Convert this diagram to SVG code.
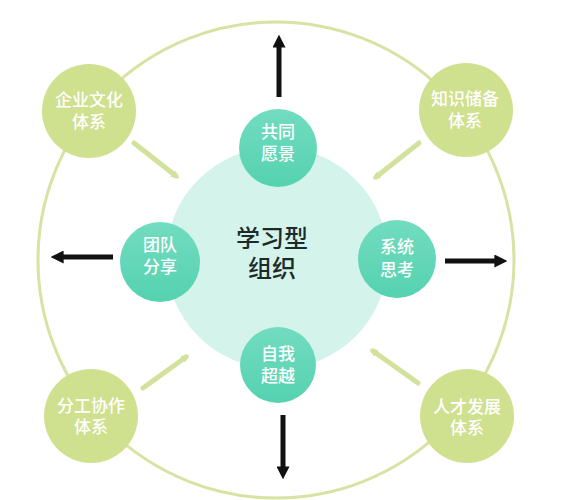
<svg xmlns="http://www.w3.org/2000/svg" width="565" height="500" viewBox="0 0 565 500">
<defs>
<linearGradient id="teal" x1="0" y1="0" x2="0" y2="1">
<stop offset="0" stop-color="#72dcc0"/>
<stop offset="1" stop-color="#55d2b0"/>
</linearGradient>
<marker id="blk" viewBox="0 0 10 10" refX="2" refY="5" markerWidth="2.6" markerHeight="2.6" orient="auto" markerUnits="strokeWidth">
<path d="M0,0 L10,5 L0,10 z" fill="#111"/>
</marker>
<marker id="grn" viewBox="0 0 10 10" refX="5" refY="5" markerWidth="1.6" markerHeight="1.6" orient="auto" markerUnits="strokeWidth">
<path d="M0,0 L10,5 L0,10 z" fill="#d2e29c"/>
</marker>
</defs>
<style>
.ring{fill:none;stroke:#d6e3a2;stroke-width:3}
.core{fill:#d3f3eb}
.inner{fill:url(#teal)}
.outer{fill:#cfe08f}
.lbl{font-family:"Noto Sans CJK SC","Noto Sans",sans-serif;fill:#fff;font-size:17px;font-weight:500;text-anchor:middle}
.title{font-family:"Noto Sans CJK SC","Noto Sans",sans-serif;fill:#1d2a2a;font-size:24px;font-weight:500;text-anchor:middle}
.arr{stroke:#111;stroke-width:5;fill:none}
.con{stroke:#d2e29c;stroke-width:5;fill:none;stroke-linecap:round}
</style>
<rect width="565" height="500" fill="#fff"/>
<circle class="ring" cx="276" cy="260" r="238"/>
<g id="center">
<circle class="core" cx="277" cy="258" r="111"/>
<text class="title" x="272" y="247">学习型<tspan x="272" dy="30">组织</tspan></text>
</g>
<g id="connectors">
<line class="arr" x1="279" y1="97" x2="279" y2="45" marker-end="url(#blk)"/>
<line class="arr" x1="113" y1="257" x2="61" y2="257" marker-end="url(#blk)"/>
<line class="arr" x1="445" y1="261" x2="497" y2="261" marker-end="url(#blk)"/>
<line class="arr" x1="283" y1="415" x2="283" y2="469" marker-end="url(#blk)"/>
<line class="con" x1="134" y1="143" x2="176" y2="176" marker-end="url(#grn)"/>
<line class="con" x1="419" y1="143" x2="376" y2="177" marker-end="url(#grn)"/>
<line class="con" x1="143" y1="388" x2="186" y2="357" marker-end="url(#grn)"/>
<line class="con" x1="418" y1="383" x2="373" y2="351" marker-end="url(#grn)"/>
</g>
<g id="n-gongtong">
<circle class="inner" cx="278" cy="148" r="39"/>
<text class="lbl" x="278" y="138">共同<tspan x="278" dy="22">愿景</tspan></text>
</g>
<g id="n-tuandui">
<circle class="inner" cx="160" cy="262" r="40"/>
<text class="lbl" x="160" y="251">团队<tspan x="160" dy="22">分享</tspan></text>
</g>
<g id="n-xitong">
<circle class="inner" cx="397" cy="259" r="39"/>
<text class="lbl" x="397" y="253">系统<tspan x="397" dy="23">思考</tspan></text>
</g>
<g id="n-ziwo">
<circle class="inner" cx="278" cy="365" r="38"/>
<text class="lbl" x="278" y="360">自我<tspan x="278" dy="22">超越</tspan></text>
</g>
<g id="n-qiye">
<circle class="outer" cx="89" cy="111" r="47"/>
<text class="lbl" x="89" y="106">企业文化<tspan x="89" dy="22">体系</tspan></text>
</g>
<g id="n-zhishi">
<circle class="outer" cx="466" cy="110" r="47"/>
<text class="lbl" x="465" y="105">知识储备<tspan x="465" dy="22">体系</tspan></text>
</g>
<g id="n-fengong">
<circle class="outer" cx="91" cy="416" r="47"/>
<text class="lbl" x="91" y="412">分工协作<tspan x="91" dy="21">体系</tspan></text>
</g>
<g id="n-rencai">
<circle class="outer" cx="467" cy="416" r="47"/>
<text class="lbl" x="467" y="413">人才发展<tspan x="467" dy="21">体系</tspan></text>
</g>
</svg>
